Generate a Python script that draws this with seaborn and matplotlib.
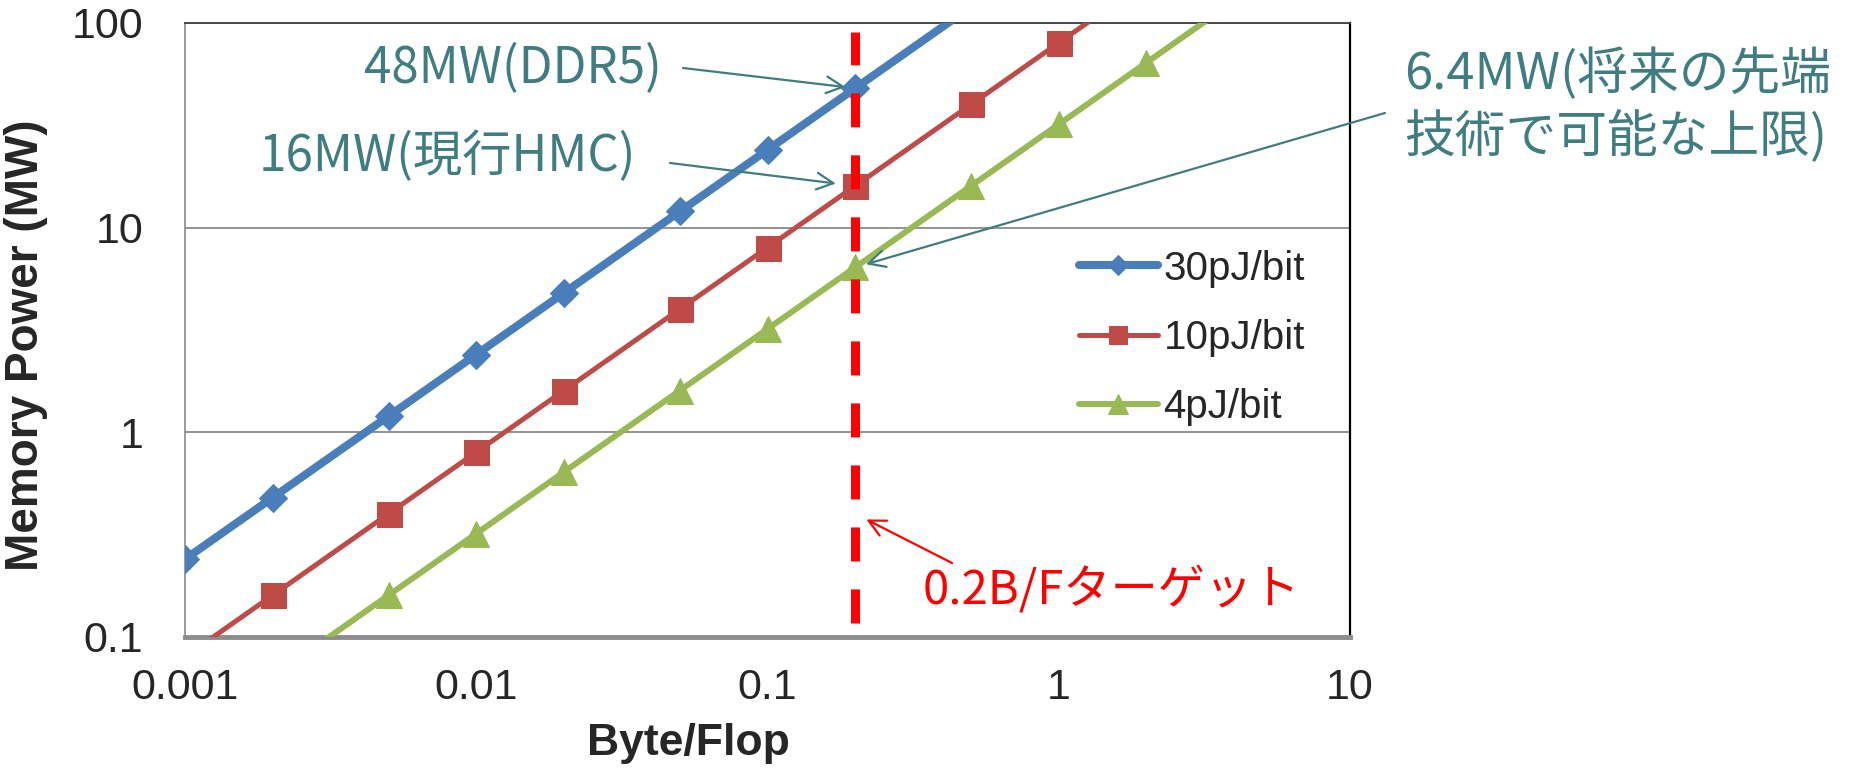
import matplotlib
matplotlib.use('Agg')
import matplotlib.pyplot as plt
from matplotlib.ticker import FixedLocator, FuncFormatter, NullLocator
import pandas as pd
import seaborn as sns

# data
bf_30 = [0.001, 0.002, 0.005, 0.01, 0.02, 0.05, 0.1, 0.2, 0.5]
mw_30 = [0.24, 0.48, 1.2, 2.4, 4.8, 12, 24, 48, 120]
bf_10 = [0.001, 0.002, 0.005, 0.01, 0.02, 0.05, 0.1, 0.2, 0.5, 1, 2]
mw_10 = [0.08, 0.16, 0.4, 0.8, 1.6, 4, 8, 16, 40, 80, 160]
bf_4 = [0.002, 0.005, 0.01, 0.02, 0.05, 0.1, 0.2, 0.5, 1, 2, 5]
mw_4 = [0.064, 0.16, 0.32, 0.64, 1.6, 3.2, 6.4, 16, 32, 64, 160]
series_names = ['30pJ/bit', '10pJ/bit', '4pJ/bit']
target_bf = 0.2
x_ticks = [0.001, 0.01, 0.1, 1, 10]
y_ticks = [0.1, 1, 10, 100]

W, H = 1867, 771
TEAL = '#3F7D80'
JP = ['Noto Sans CJK JP', 'DejaVu Sans']


def px(x, y):
    ''' figure fraction from pixel position measured from top-left '''
    return x / W, 1 - y / H


def main():
    sns.set_style('white')
    plt.rcParams['font.family'] = ['Liberation Sans', 'DejaVu Sans']

    fig = plt.figure(figsize=(W / 100, H / 100), dpi=100)
    ax = fig.add_axes([185 / W, 1 - 637 / H, 1165 / W, 614 / H])

    styles = [
        (bf_30, mw_30, '#4A7EBB', 'D', 14, 5.8),
        (bf_10, mw_10, '#BE4B48', 's', 18, 3.6),
        (bf_4, mw_4, '#98B954', '^', 19, 4.3),
    ]
    for name, (xs, ys, col, mk, ms, lw) in zip(series_names, styles):
        df = pd.DataFrame({'bf': xs, 'mw': ys})
        sns.lineplot(data=df, x='bf', y='mw', ax=ax, color=col, marker=mk,
                     markersize=ms, markeredgecolor=col, linewidth=lw,
                     label=name, zorder=3)

    ax.set_xscale('log')
    ax.set_yscale('log')
    ax.set_xlim(0.001, 10)
    ax.set_ylim(0.1, 100)

    fmt = FuncFormatter(lambda v, p: '{:g}'.format(v))
    ax.xaxis.set_major_locator(FixedLocator(x_ticks))
    ax.yaxis.set_major_locator(FixedLocator(y_ticks))
    ax.xaxis.set_minor_locator(NullLocator())
    ax.yaxis.set_minor_locator(NullLocator())
    ax.xaxis.set_major_formatter(fmt)
    ax.yaxis.set_major_formatter(fmt)
    ax.tick_params(axis='x', length=0, pad=22, labelsize=31)
    ax.tick_params(axis='y', length=0, pad=30, labelsize=31)

    ax.grid(axis='y', color='#8A8A8A', linewidth=1.3)
    ax.grid(axis='x', visible=False)
    ax.spines['top'].set_color('#404040')
    ax.spines['top'].set_linewidth(1.3)
    ax.spines['left'].set_color('#8A8A8A')
    ax.spines['left'].set_linewidth(1.2)
    ax.spines['bottom'].set_color('#8C8C8C')
    ax.spines['bottom'].set_linewidth(3.5)
    ax.spines['right'].set_color('black')
    ax.spines['right'].set_linewidth(1.6)

    ax.set_xlabel('Byte/Flop', fontsize=32, fontweight='heavy')
    ax.xaxis.set_label_coords(0.432, -0.14)
    ax.set_ylabel('Memory Power (MW)', fontsize=33, fontweight='heavy')
    ax.yaxis.set_label_coords(-0.118, 0.475)

    # 0.2 B/F target line
    ax.axvline(target_bf, ymin=0.023, ymax=0.985, color='#FF0000', lw=6.5,
               dashes=(3.77, 3.1), zorder=4)

    ax.legend(loc='center left', bbox_to_anchor=px(1079, 338),
              bbox_transform=fig.transFigure, frameon=False,
              fontsize=29, handlelength=1.95, handletextpad=0.15,
              labelspacing=0.78, borderpad=0, borderaxespad=0,
              markerscale=0.75)

    # annotations
    fig.text(*px(364, 68), '48MW(DDR5)', color=TEAL, fontsize=35.5,
             family=JP, ha='left', va='center')
    fig.text(*px(259, 157), '16MW(現行HMC)', color=TEAL, fontsize=35.5,
             family=JP, ha='left', va='center')
    fig.text(*px(1404, 106), '6.4MW(将来の先端\n技術で可能な上限)', color=TEAL,
             fontsize=36.5, family=JP, ha='left', va='center', linespacing=1.25)
    fig.text(*px(923, 590), '0.2B/Fターゲット', color='#FF0000', fontsize=34,
             family=JP, ha='left', va='center')

    arrow = dict(arrowstyle='->,head_length=0.6,head_width=0.3',
                 mutation_scale=20, lw=1.6, shrinkA=0)
    ax.annotate('', xy=(target_bf, 48), xytext=px(683, 68),
                textcoords='figure fraction',
                arrowprops=dict(arrow, color=TEAL, shrinkB=7), zorder=6)
    ax.annotate('', xy=(target_bf, 16), xytext=px(670, 163),
                textcoords='figure fraction',
                arrowprops=dict(arrow, color=TEAL, shrinkB=14), zorder=6)
    ax.annotate('', xy=(target_bf, 6.4), xytext=px(1385, 113),
                textcoords='figure fraction', annotation_clip=False,
                arrowprops=dict(arrow, color=TEAL, shrinkB=8), zorder=6)
    ax.annotate('', xy=(target_bf, 0.4), xytext=px(952, 563),
                textcoords='figure fraction',
                arrowprops=dict(arrow, color='#FF0000', shrinkB=9), zorder=6)

    fig.savefig('out.png', dpi=100)


if __name__ == '__main__':
    main()
